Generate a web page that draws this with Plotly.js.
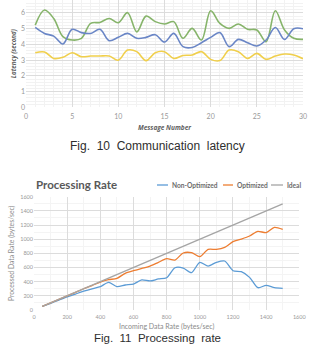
<!DOCTYPE html>
<html><head><meta charset="utf-8">
<script src="https://cdn.plot.ly/plotly-3.0.1.min.js"></script>
<style>html,body{margin:0;padding:0;background:#fff;overflow:hidden}#chart{width:309px;height:345px}</style>
</head><body><div id="chart"></div>
<script>
// ---- Fig. 10 data ----
const messageNumbers = [1,2,3,4,5,6,7,8,9,10,11,12,13,14,15,16,17,18,19,20,21,22,23,24,25,26,27,28,29,30];
const latencyGreen  = [5.23,6.19,5.65,4.50,4.28,4.38,5.34,5.40,5.65,5.38,6.02,4.80,5.80,5.45,5.30,5.45,4.39,5.02,4.28,6.14,5.34,5.02,5.30,4.96,4.92,4.17,6.14,4.92,4.39,4.32];
const latencyBlue   = [5.08,4.70,4.53,4.03,4.96,4.75,4.70,4.96,4.24,4.45,4.70,4.39,4.45,4.62,4.15,4.70,3.86,3.81,4.11,4.45,4.75,3.86,4.32,4.11,3.90,4.28,5.08,4.32,5.00,5.00];
const latencyYellow = [3.47,3.52,3.11,3.18,3.47,3.22,3.26,3.26,3.26,3.00,3.64,3.54,2.97,3.47,3.54,3.11,3.30,3.33,3.54,3.05,2.97,3.64,3.54,3.11,3.43,3.05,3.26,3.39,3.33,3.09];
const latencyXTicks = [0,5,10,15,20,25,30];
const latencyYTicks = [0,1,2,3,4,5,6];

// ---- Fig. 11 data ----
const incomingRate = [50,100,150,200,250,300,350,400,450,500,550,600,650,700,750,800,850,900,950,1000,1050,1100,1150,1200,1250,1300,1350,1400,1450,1500];
const nonOptimized = [50,95,140,185,225,265,300,330,390,330,353,367,424,410,438,456,597,593,527,673,621,673,692,555,541,461,315,348,315,306];
const optimized    = [50,100,150,200,250,300,345,395,428,447,518,555,588,621,673,725,706,805,809,753,856,856,885,965,1002,1045,1111,1092,1167,1139];
const ideal        = [50,100,150,200,250,300,350,400,450,500,550,600,650,700,750,800,850,900,950,1000,1050,1100,1150,1200,1250,1300,1350,1400,1450,1500];
const rateTicks = [0,200,400,600,800,1000,1200,1400,1600];
const legendNames = ['Non-Optimized','Optimized','Ideal'];
const legendColors = ['#5B9BD5','#ED7D31','#A5A5A5'];

const W = 309, H = 345;
const px = x => x / W;
const py = y => (H - y) / H;

const traces = [
  {x: messageNumbers, y: latencyGreen, xaxis:'x', yaxis:'y', mode:'lines', line:{color:'#86b46a', width:1.6, shape:'spline', smoothing:1}, showlegend:false},
  {x: messageNumbers, y: latencyBlue, xaxis:'x', yaxis:'y', mode:'lines', line:{color:'#6a86c6', width:1.6, shape:'spline', smoothing:1}, showlegend:false},
  {x: messageNumbers, y: latencyYellow, xaxis:'x', yaxis:'y', mode:'lines', line:{color:'#f0cf4c', width:1.6, shape:'spline', smoothing:1}, showlegend:false},
  {x: incomingRate, y: nonOptimized, xaxis:'x2', yaxis:'y2', mode:'lines', name:legendNames[0], line:{color:legendColors[0], width:1.3, shape:'spline', smoothing:0.7}, showlegend:false},
  {x: incomingRate, y: optimized, xaxis:'x2', yaxis:'y2', mode:'lines', name:legendNames[1], line:{color:legendColors[1], width:1.3, shape:'spline', smoothing:0.7}, showlegend:false},
  {x: incomingRate, y: ideal, xaxis:'x2', yaxis:'y2', mode:'lines', name:legendNames[2], line:{color:legendColors[2], width:1.3}, showlegend:false}
];

const tickFont = {family:'Lato, "Open Sans", sans-serif', size:7, color:'#999999'};
const smallTickFont = {family:'Lato, "Open Sans", sans-serif', size:5.5, color:'#999999'};

const legendLineX = [[157,168],[223,233],[271,283]];
const legendTextX = [170,235,285];
const shapes = [];
const annotations = [];
for (let i = 0; i < legendNames.length; i++) {
  shapes.push({type:'line', xref:'paper', yref:'paper', x0:px(legendLineX[i][0]), x1:px(legendLineX[i][1]), y0:py(185), y1:py(185), line:{color:legendColors[i], width:1.3}});
  annotations.push({xref:'paper', yref:'paper', x:px(legendTextX[i]), y:py(185), xanchor:'left', yanchor:'middle', showarrow:false,
    text:'<b>'+legendNames[i]+'</b>', font:{family:'Lato, sans-serif', size:6.6, color:'#6b6b6b'}});
}
annotations.push({xref:'paper', yref:'paper', x:px(157), y:py(146), xanchor:'center', yanchor:'middle', showarrow:false,
  text:'Fig.  10  Communication  latency', font:{family:'"Liberation Sans", Arial, sans-serif', size:12, color:'#2e2e2e'}});
annotations.push({xref:'paper', yref:'paper', x:px(157), y:py(338), xanchor:'center', yanchor:'middle', showarrow:false,
  text:'Fig.  11  Processing  rate', font:{family:'"Liberation Sans", Arial, sans-serif', size:11.5, color:'#2e2e2e'}});

const layout = {
  width: W, height: H,
  margin: {l:0, r:0, t:0, b:0},
  paper_bgcolor:'#ffffff', plot_bgcolor:'#ffffff',
  showlegend:false,
  title: {text:'<b>Processing Rate</b>', x:px(36), xanchor:'left', xref:'paper', y:py(185), yanchor:'middle', yref:'paper',
    font:{family:'Lato, "Open Sans", sans-serif', size:11.5, color:'#595959'}},
  xaxis: {domain:[px(26), px(303)], range:[0,30], anchor:'y', tickmode:'array', tickvals:latencyXTicks,
    showgrid:true, gridcolor:'#dcdcdc', gridwidth:1, zeroline:false, showline:false, ticks:'', tickfont:tickFont, ticklabelstandoff:4,
    minor:{dtick:1, showgrid:true, gridcolor:'#f2f2f2'}, automargin:false, fixedrange:true,
    title:{text:'<b><i>Message Number</i></b>', standoff:6, font:{family:'"Open Sans", sans-serif', size:6.5, color:'#5f5f5f'}}},
  yaxis: {domain:[py(107.3), 1], range:[0,6.826], anchor:'x', tickmode:'array', tickvals:latencyYTicks,
    showgrid:true, gridcolor:'#dcdcdc', gridwidth:1, zeroline:false, showline:false, ticks:'', tickfont:tickFont,
    minor:{dtick:0.2, showgrid:true, gridcolor:'#f2f2f2'}, automargin:false, fixedrange:true,
    title:{text:'<b><i>Latency (second)</i></b>', standoff:3, font:{family:'"Open Sans", sans-serif', size:6.2, color:'#5f5f5f'}}},
  xaxis2: {domain:[px(34), px(299.3)], range:[0,1600], anchor:'y2', tickmode:'array', tickvals:rateTicks,
    showgrid:true, gridcolor:'#dcdcdc', zeroline:false, showline:false, ticks:'', tickfont:smallTickFont, ticklabelstandoff:2,
    minor:{dtick:100, showgrid:true, gridcolor:'#f4f4f4'}, automargin:false, fixedrange:true,
    title:{text:'Incoming Data Rate (bytes/sec)', standoff:5, font:{family:'Lato, sans-serif', size:7, color:'#8a8a8a'}}},
  yaxis2: {domain:[py(310), py(196.7)], range:[0,1600], anchor:'x2', tickmode:'array', tickvals:rateTicks,
    showgrid:true, gridcolor:'#dcdcdc', zeroline:false, showline:false, ticks:'', tickfont:smallTickFont,
    minor:{dtick:100, showgrid:true, gridcolor:'#f4f4f4'}, automargin:false, fixedrange:true,
    title:{text:'Processed Data Rate (bytes/sec)', standoff:4, font:{family:'Lato, sans-serif', size:6.8, color:'#8a8a8a'}}},
  shapes: shapes,
  annotations: annotations
};

Plotly.newPlot('chart', traces, layout, {displayModeBar:false, staticPlot:true});
</script>
</body></html>
